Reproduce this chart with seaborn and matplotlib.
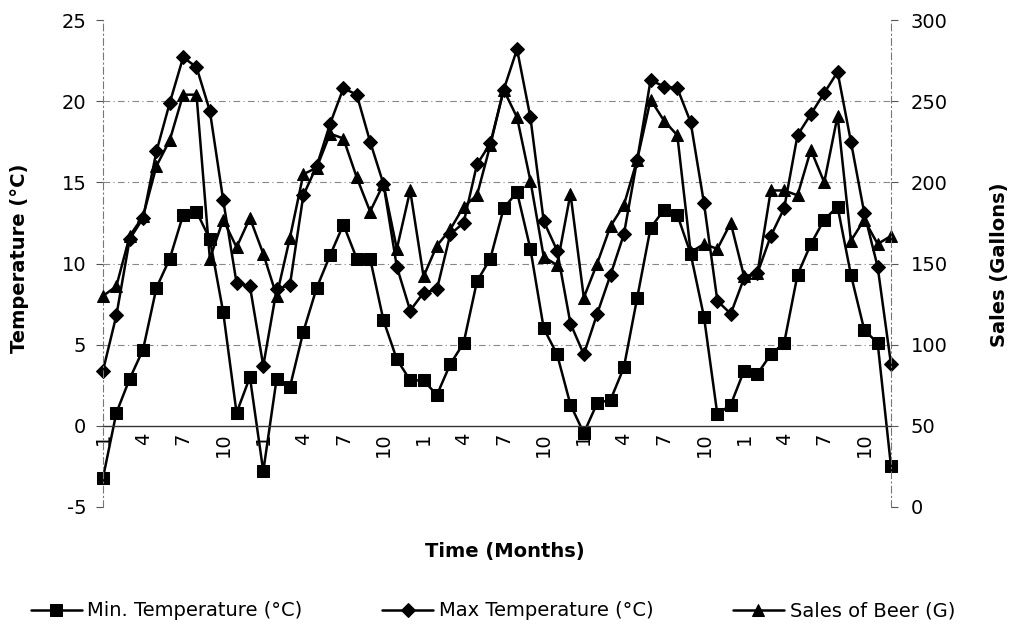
import matplotlib
matplotlib.use("Agg")
import matplotlib.pyplot as plt
import seaborn as sns
from matplotlib.ticker import MultipleLocator, FixedLocator, FixedFormatter

# ---------------- data ----------------
months = list(range(1, 61))
month_labels = [str(((m - 1) % 12) + 1) for m in months]

min_temp = [-3.2, 0.8, 2.9, 4.7, 8.5, 10.3, 13.0, 13.2, 11.5, 7.0, 0.8, 3.0,
            -2.8, 2.9, 2.4, 5.8, 8.5, 10.5, 12.4, 10.3, 10.3, 6.5, 4.1, 2.8,
            2.8, 1.9, 3.8, 5.1, 8.9, 10.3, 13.4, 14.4, 10.9, 6.0, 4.4, 1.3,
            -0.45, 1.4, 1.6, 3.6, 7.9, 12.2, 13.3, 13.0, 10.6, 6.7, 0.7, 1.3,
            3.4, 3.2, 4.4, 5.1, 9.3, 11.2, 12.7, 13.5, 9.3, 5.9, 5.1, -2.5]

max_temp = [3.4, 6.8, 11.5, 12.8, 16.9, 19.9, 22.7, 22.1, 19.4, 13.9, 8.8, 8.6,
            3.7, 8.4, 8.7, 14.2, 16.0, 18.6, 20.8, 20.4, 17.5, 14.9, 9.8, 7.1,
            8.2, 8.4, 11.8, 12.5, 16.1, 17.4, 20.7, 23.2, 19.0, 12.6, 10.8, 6.3,
            4.4, 6.9, 9.3, 11.8, 16.4, 21.3, 20.9, 20.8, 18.7, 13.7, 7.7, 6.9,
            9.1, 9.4, 11.7, 13.4, 17.9, 19.2, 20.5, 21.8, 17.5, 13.1, 9.8, 3.8]

beer_sales = [130, 136, 167, 179, 210, 226, 254, 254, 153, 177, 160, 178,
              156, 130, 166, 205, 209, 230, 227, 203, 182, 199, 159, 195,
              142, 161, 171, 185, 192, 223, 257, 240, 201, 154, 149, 193,
              129, 150, 173, 186, 214, 251, 238, 229, 157, 162, 159, 175,
              142, 144, 195, 195, 192, 220, 200, 241, 164, 177, 162, 167]

series_names = ["Min. Temperature (°C)", "Max Temperature (°C)", "Sales of Beer (G)"]

# ---------------- style ----------------
sns.set_theme(style="white")
plt.rcParams["font.family"] = ["DejaVu Sans"]
plt.rcParams["axes.unicode_minus"] = False
plt.rcParams["text.color"] = "black"

FS = 14

fig = plt.figure(figsize=(10.16, 6.26), dpi=100)
ax = fig.add_axes([103 / 1016, 1 - 507 / 626, (891 - 103) / 1016, (507 - 20) / 626])
ax2 = ax.twinx()

lw = 1.8
common = dict(color="black", markeredgecolor="black", linewidth=lw, legend=False, clip_on=False)
sns.lineplot(x=months, y=min_temp, ax=ax, marker="s", markersize=9,
             label=series_names[0], **common)
sns.lineplot(x=months, y=max_temp, ax=ax, marker="D", markersize=6.8,
             label=series_names[1], **common)
sns.lineplot(x=months, y=beer_sales, ax=ax2, marker="^", markersize=9,
             label=series_names[2], **common)

# y axes
ax.set_xlim(1, 60)
ax.set_ylim(-5, 25)
ax2.set_ylim(0, 300)
ax.set_yticks([-5, 0, 5, 10, 15, 20, 25])
ax2.set_yticks([0, 50, 100, 150, 200, 250, 300])
ax.set_ylabel("")
ax2.set_ylabel("")
ax.set_xlabel("")

for y in [5, 10, 15, 20]:
    ax.axhline(y, color="#888888", linestyle=(0, (6, 3, 1, 3)), linewidth=0.8, zorder=0)

# spines
for a in (ax, ax2):
    for s in a.spines.values():
        s.set_visible(False)
ax.spines["left"].set_visible(True)
ax.spines["left"].set_color("#777777")
ax.spines["left"].set_linestyle((0, (6, 3, 1, 3)))
ax.spines["left"].set_linewidth(0.8)
ax2.spines["right"].set_visible(True)
ax2.spines["right"].set_color("#777777")
ax2.spines["right"].set_linestyle((0, (6, 3, 1, 3)))
ax2.spines["right"].set_linewidth(0.8)
ax.spines["bottom"].set_visible(True)
ax.spines["bottom"].set_position(("data", 0))
ax.spines["bottom"].set_color("#333333")
ax.spines["bottom"].set_linewidth(1.0)

# x ticks
major = months[::3]
ax.xaxis.set_major_locator(FixedLocator(major))
ax.xaxis.set_major_formatter(FixedFormatter(month_labels[::3]))
ax.xaxis.set_minor_locator(MultipleLocator(1))
ax.tick_params(axis="x", which="both", direction="inout", length=6, width=0.8,
               colors="#555555", labelcolor="black", labelsize=FS, labelrotation=90, pad=2)
ax.tick_params(axis="x", which="minor", length=5)
ax.tick_params(axis="y", which="major", direction="out", length=5, width=0.8,
               colors="#555555", labelcolor="black", labelsize=FS, left=True, pad=7)
ax2.tick_params(axis="y", which="major", direction="out", length=5, width=0.8,
                colors="#555555", labelcolor="black", labelsize=FS, right=True, pad=9)
ax.grid(False)
ax2.grid(False)

# labels
fig.text(20 / 1016, 1 - 258 / 626, "Temperature (°C)", rotation=90, ha="center", va="center",
         fontsize=FS, fontweight="bold", color="black")
fig.text(1000 / 1016, 1 - 265 / 626, "Sales (Gallons)", rotation=90, ha="center", va="center",
         fontsize=FS, fontweight="bold", color="black")
fig.text(505 / 1016, 1 - 552 / 626, "Time (Months)", ha="center", va="center",
         fontsize=FS, fontweight="bold", color="black")

# legend
h1, l1 = ax.get_legend_handles_labels()
h2, l2 = ax2.get_legend_handles_labels()
leg = fig.legend(h1 + h2, l1 + l2, loc="center", bbox_to_anchor=(493 / 1016, 1 - 611 / 626),
                 ncol=3, frameon=False, fontsize=FS, handlelength=2.6, columnspacing=4.1,
                 handletextpad=0.3)
for t in leg.get_texts():
    t.set_color("black")

fig.savefig("out.png", dpi=100, facecolor="white")
